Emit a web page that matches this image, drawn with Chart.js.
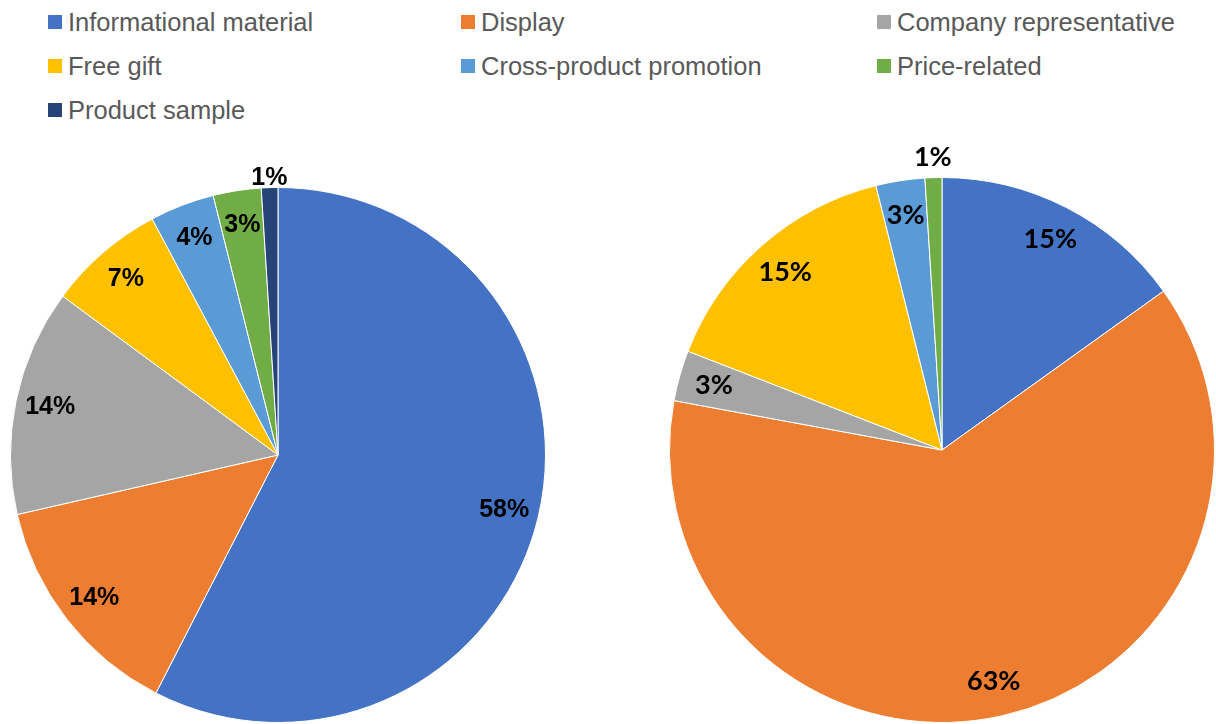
<!DOCTYPE html>
<html lang="en">
<head>
    <meta charset="UTF-8">
    <title>Promotion types - two pies</title>
    <script src="https://cdn.jsdelivr.net/npm/chart.js"></script>
    <style>
        body, html {
            margin: 0;
            width: 1216px;
            height: 724px;
            overflow: hidden;
            background: #ffffff;
            font-family: 'Liberation Sans', Arial, sans-serif;
        }
        #legend {
            position: absolute;
            left: 48px;
            top: 0;
            display: grid;
            grid-template-columns: 413px 416px 320px;
            grid-auto-rows: 44px;
        }
        .item {
            display: flex;
            align-items: center;
            height: 44px;
            font-size: 25.5px;
            color: #595959;
            white-space: nowrap;
        }
        .swatch {
            width: 14px;
            height: 14px;
            margin-right: 6px;
            flex: none;
        }
        .pie {
            position: absolute;
        }
        #leftWrap { left: 0; top: 140px; width: 600px; height: 584px; }
        #rightWrap { left: 610px; top: 140px; width: 606px; height: 584px; }
    </style>
</head>
<body>
    <div id="legend"></div>
    <div class="pie" id="leftWrap"><canvas id="leftPie"></canvas></div>
    <div class="pie" id="rightWrap"><canvas id="rightPie"></canvas></div>

    <script>
        const categories = [
            'Informational material',
            'Display',
            'Company representative',
            'Free gift',
            'Cross-product promotion',
            'Price-related',
            'Product sample'
        ];
        const leftValues = [57.6, 13.9, 13.7, 7.1, 3.9, 2.9, 1.0];
        const rightValues = [15.1, 62.8, 3.0, 15.2, 2.9, 1.0, 0];
        const colors = ['#4472C4', '#ED7D31', '#A5A5A5', '#FFC000', '#5B9BD5', '#70AD47', '#264478'];

        // legend (shared by both pies)
        const legend = document.getElementById('legend');
        categories.forEach((name, i) => {
            const item = document.createElement('div');
            item.className = 'item';
            item.innerHTML = `<span class="swatch" style="background:${colors[i]}"></span>${name}`;
            legend.appendChild(item);
        });

        // percent labels drawn on the slices
        const sliceLabels = {
            id: 'sliceLabels',
            afterDatasetsDraw(chart, args, opts) {
                const ctx = chart.ctx;
                const values = chart.data.datasets[0].data;
                const total = values.reduce((a, b) => a + b, 0);
                ctx.save();
                ctx.font = opts.font;
                ctx.fillStyle = '#000';
                ctx.textAlign = 'center';
                ctx.textBaseline = 'middle';
                chart.getDatasetMeta(0).data.forEach((arc, i) => {
                    if (!values[i]) return;
                    const p = arc.getProps(['x', 'y', 'startAngle', 'endAngle', 'outerRadius'], true);
                    const pct = values[i] / total * 100;
                    const mid = (p.startAngle + p.endAngle) / 2;
                    const r = pct < 2 ? p.outerRadius + opts.outsideGap : p.outerRadius * 0.87;
                    ctx.fillText(Math.round(pct) + '%', p.x + Math.cos(mid) * r, p.y + Math.sin(mid) * r);
                });
                ctx.restore();
            }
        };

        function makePie(id, values, padding, font, outsideGap) {
            return new Chart(document.getElementById(id), {
                type: 'pie',
                data: {
                    labels: categories,
                    datasets: [{
                        data: values,
                        backgroundColor: colors,
                        borderColor: '#ffffff',
                        borderWidth: 1
                    }]
                },
                options: {
                    responsive: true,
                    maintainAspectRatio: false,
                    animation: false,
                    layout: { padding: padding },
                    plugins: {
                        legend: { display: false },
                        tooltip: { enabled: false },
                        sliceLabels: { font: font, outsideGap: outsideGap }
                    }
                },
                plugins: [sliceLabels]
            });
        }

        makePie('leftPie', leftValues, { left: 10, right: 54, top: 47, bottom: 1 },
            'bold 25px "Liberation Sans", Arial, sans-serif', 10);
        makePie('rightPie', rightValues, { left: 59, right: 1, top: 37, bottom: 1 },
            'bold 27px Lato, "Noto Sans", sans-serif', 20);
    </script>
</body>
</html>
